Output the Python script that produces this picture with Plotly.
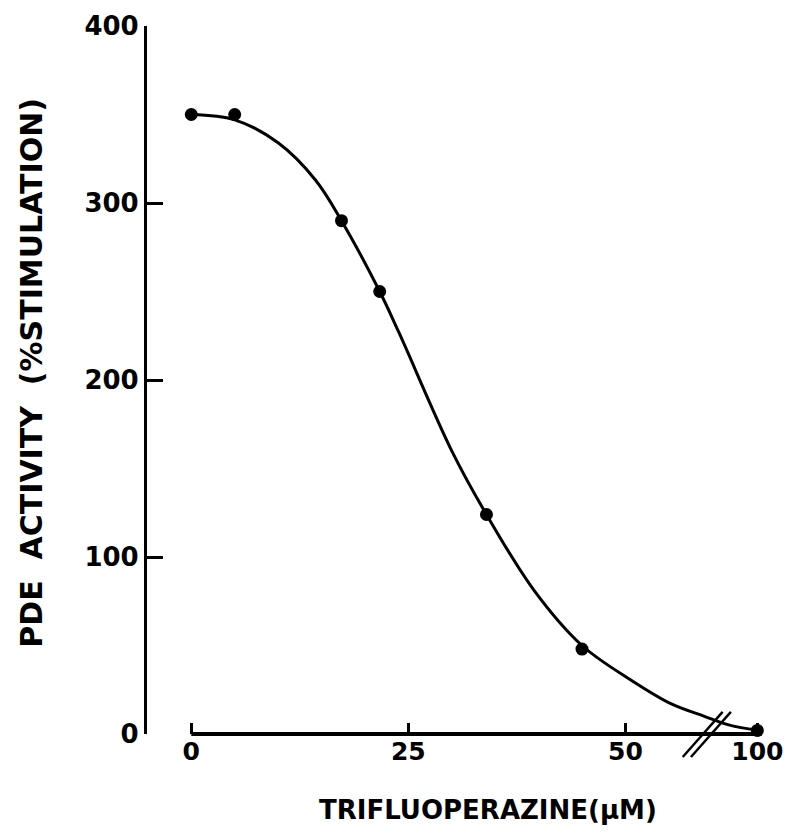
import plotly.graph_objects as go

# Measured data points (concentration in uM, % stimulation)
conc = [0, 5, 17.3, 21.7, 34, 45, 100]
activity = [350, 350, 290, 250, 124, 48, 2]

# Hand-drawn fitted curve (axis units, before the break)
curve_conc = [0, 5, 10, 14.3, 17.3, 21.7, 23.9, 30, 34, 39.5, 45, 50.8, 55.3, 59.1, 62, 65.2]
curve_act = [350, 347, 334, 313, 290, 250, 227, 160, 124, 81, 50, 30, 17, 10, 5, 2.2]

x_tick_vals = [0, 25, 50, 100]
x_tick_text = ["0", "25", "50", "100"]
y_tick_vals = [0, 100, 200, 300, 400]
Y_MAX = 400

# Broken axis: values above 50 are drawn past the break at this axis position
BREAK_POS = 59.3
POS_100 = 65.2


def to_axis(v):
    return POS_100 if v >= 100 else v


FONT = "DejaVu Sans"

fig = go.Figure()

fig.add_trace(go.Scatter(
    x=curve_conc, y=curve_act, mode="lines",
    line=dict(color="black", width=3, shape="spline", smoothing=1.0),
    hoverinfo="skip", showlegend=False, cliponaxis=False,
))

fig.add_trace(go.Scatter(
    x=[to_axis(v) for v in conc], y=activity, mode="markers",
    marker=dict(color="black", size=13),
    showlegend=False, cliponaxis=False,
))

# x-axis line (starts at 0, detached from the y axis)
fig.add_shape(type="line", xref="x", yref="y domain", x0=0, x1=POS_100 + 0.5, y0=0, y1=0,
              line=dict(color="black", width=4))
# break marks (two parallel slashes)
for dx in (0.0, 0.95):
    fig.add_shape(type="line", xref="x", yref="y domain",
                  x0=BREAK_POS - 2.7 + dx, y0=-13 / Y_MAX,
                  x1=BREAK_POS + 1.9 + dx, y1=12.5 / Y_MAX,
                  line=dict(color="black", width=2.4))

fig.update_layout(
    width=794, height=835,
    margin=dict(l=147, r=11, t=22, b=101),
    paper_bgcolor="white", plot_bgcolor="white",
    font=dict(family=FONT, color="black"),
    xaxis=dict(
        range=[-5.1, 67], showgrid=False, zeroline=False, showline=False,
        tickmode="array", tickvals=[to_axis(v) for v in x_tick_vals], ticktext=x_tick_text,
        ticks="inside", ticklen=11, tickwidth=3, tickcolor="black",
        tickfont=dict(family=FONT, size=25, color="black", weight="bold"),
        ticklabeloverflow="allow",
    ),
    yaxis=dict(
        range=[0, Y_MAX], showgrid=False, zeroline=False,
        showline=True, linecolor="black", linewidth=3.2,
        tickmode="array", tickvals=y_tick_vals,
        ticks="inside", ticklen=16, tickwidth=3, tickcolor="black",
        tickfont=dict(family=FONT, size=26, color="black", weight="bold"),
        ticklabelstandoff=0,
    ),
    annotations=[
        dict(text="PDE  ACTIVITY  (%STIMULATION)", xref="paper", yref="paper",
             x=-0.184, y=0.51, xanchor="center", yanchor="middle",
             textangle=-90, showarrow=False,
             font=dict(family=FONT, size=30, color="black", weight="bold")),
        dict(text="TRIFLUOPERAZINE(µM)", xref="paper", yref="paper",
             x=0.545, y=-0.1067, xanchor="center", yanchor="middle", showarrow=False,
             font=dict(family=FONT, size=26, color="black", weight="bold")),
    ],
)

fig.write_html("out.html")
